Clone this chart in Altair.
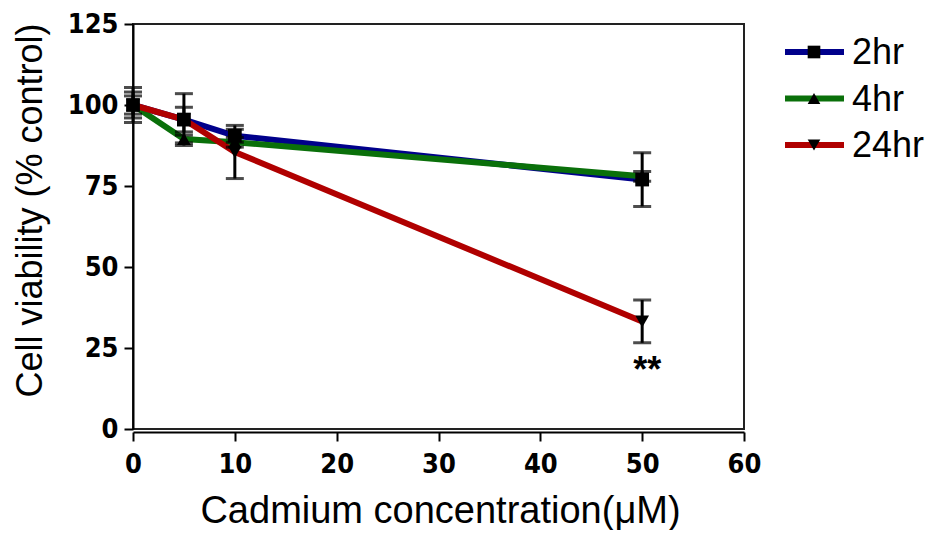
import altair as alt
import pandas as pd

# ---- data ----
conc = [0, 5, 10, 50]
series = ["2hr", "4hr", "24hr"]
hr2 = [100, 95.5, 90.5, 77]
hr4 = [100, 89.5, 88.5, 78]
hr24 = [100, 95.5, 85.5, 33.2]
err2 = [4.0, 3.8, 2.0, 8.3]
err4 = [5.4, 1.2, 1.5, 1.5]
err24 = [2.8, 8.0, 8.2, 6.6]
colors = ["#00008b", "#0a700a", "#b00000"]
shapes = ["square", "triangle-up", "triangle-down"]
sig_x = [50]
sig_y = [20]
sig_text = ["**"]

rows = []
for name, vals, errs in zip(series, [hr2, hr4, hr24], [err2, err4, err24]):
    for c, v, e in zip(conc, vals, errs):
        rows.append({"conc": c, "viab": v, "lo": v - e, "hi": v + e, "series": name})
df = pd.DataFrame(rows)

FONT = "Liberation Sans"
NARROW = "DejaVu Sans Condensed, Liberation Sans"
axis_style = dict(
    grid=False, domainColor="black", domainWidth=2, tickColor="black", tickWidth=2,
    labelFont=NARROW, labelFontWeight="bold", labelFontSize=27, labelColor="black",
    labelFlush=False,
    titleFont=FONT, titleFontWeight="normal", titleColor="black",
)

xs = alt.Scale(domain=[0, 60], nice=False)
ys = alt.Scale(domain=[0, 125], nice=False)
col = alt.Color("series:N", scale=alt.Scale(domain=series, range=colors), legend=None)
shp = alt.Shape("series:N", scale=alt.Scale(domain=series, range=shapes), legend=None)

x_enc = alt.X(
    "conc:Q", scale=xs,
    axis=alt.Axis(values=[0, 10, 20, 30, 40, 50, 60], title="Cadmium concentration(\u03bcM)",
                  offset=3, tickSize=9, labelPadding=10, titleFontSize=38,
                  titleX=307, titleY=79, titleBaseline="middle", titleAlign="center",
                  **axis_style),
)
y_enc = alt.Y(
    "viab:Q", scale=ys,
    axis=alt.Axis(values=[0, 25, 50, 75, 100, 125], title="Cell viability (% control)",
                  tickSize=9, labelPadding=6, titleFontSize=36,
                  titleX=-103, titleY=186, titleAngle=270,
                  titleBaseline="middle", titleAlign="center",
                  **axis_style),
)

base = alt.Chart(df)

lines = base.mark_line(strokeWidth=6).encode(x=x_enc, y=y_enc, color=col, detail="series:N")

bars = base.mark_rule(color="black", strokeWidth=3).encode(
    x="conc:Q", y="lo:Q", y2="hi:Q")
cap_lo = base.mark_tick(color="black", orient="horizontal", size=18, thickness=3).encode(
    x="conc:Q", y="lo:Q")
cap_hi = base.mark_tick(color="black", orient="horizontal", size=18, thickness=3).encode(
    x="conc:Q", y="hi:Q")

pts = base.mark_point(filled=True, opacity=1, color="black", size=190).encode(
    x="conc:Q", y="viab:Q", shape=shp)

sig_df = pd.DataFrame({"conc": sig_x, "viab": sig_y, "t": sig_text})
sig = alt.Chart(sig_df).mark_text(font=FONT, fontWeight="bold", fontSize=36,
                                  baseline="middle", dx=5, dy=7).encode(
    x="conc:Q", y="viab:Q", text="t:N")

main = alt.layer(lines, bars, cap_lo, cap_hi, pts, sig)

# ---- custom legend (line + black marker + label) ----
leg_df = pd.DataFrame({"series": series})
ly = alt.Y("series:N", scale=alt.Scale(type="point", domain=series, range=[28, 121], padding=0),
           axis=None)
leg_line = alt.Chart(leg_df).mark_rule(strokeWidth=6).encode(
    x=alt.value(652), x2=alt.value(711), y=ly, color=col)
leg_pt = alt.Chart(leg_df).mark_point(filled=True, opacity=1, color="black", size=160).encode(
    x=alt.value(681), y=ly, shape=shp)
leg_txt = alt.Chart(leg_df).mark_text(font=FONT, fontSize=36, align="left",
                                      baseline="middle", dy=1).encode(
    x=alt.value(719), y=ly, text="series:N")
legend = alt.layer(leg_line, leg_pt, leg_txt)

chart = alt.layer(main, legend).resolve_scale(y="independent").properties(
    width=611, height=405,
    background="white",
    autosize=alt.AutoSizeParams(type="none"),
    padding={"left": 125, "top": 16, "right": 186, "bottom": 101},
).configure_view(stroke="#222222", strokeWidth=2)

chart.save("out.html", embed_options={"renderer": "svg", "actions": False})
